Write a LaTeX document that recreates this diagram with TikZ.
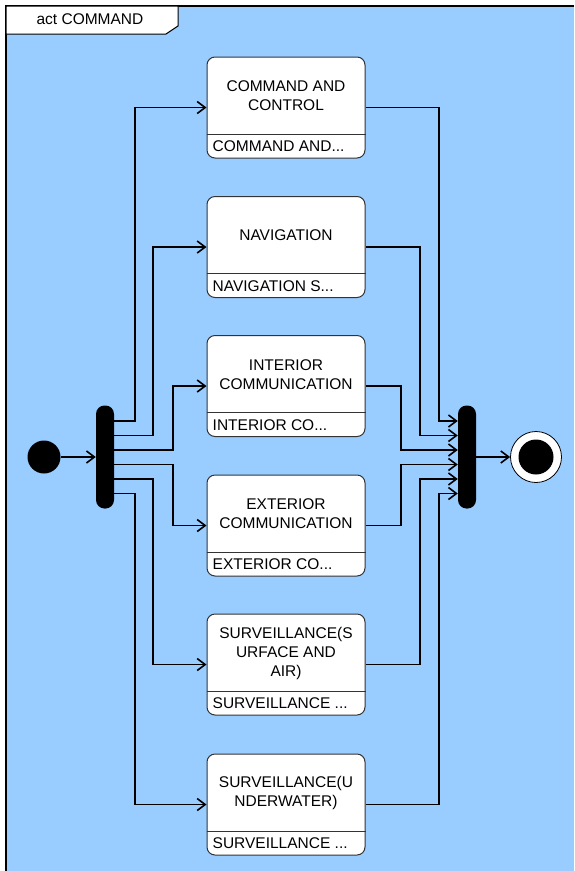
\documentclass[tikz,border=0pt]{standalone}
\usepackage{fontspec}
\setmainfont{Liberation Sans}
\usetikzlibrary{arrows.meta,positioning,calc}
\definecolor{umlblue}{RGB}{153,204,255}
\tikzset{
  act/.style     = {draw=black!80, line width=1pt, fill=white, rectangle,
                    rounded corners=8pt, minimum width=158pt, minimum height=101pt,
                    inner sep=0pt},
  acttitle/.style= {align=center, inner sep=0pt},
  actsub/.style  = {anchor=west, inner sep=0pt},
  actline/.style = {draw=black!80, line width=1pt},
  bar/.style     = {fill=black, rectangle, rounded corners=8.5pt, inner sep=0pt,
                    minimum width=18pt, minimum height=103pt},
  start/.style   = {fill=black, circle, inner sep=0pt, minimum size=33pt},
  stop/.style    = {draw=black, line width=0.8pt, fill=white, circle, inner sep=0pt,
                    minimum size=51pt},
  flow/.style    = {-{Straight Barb[length=8pt,width=12pt]}, line width=1.6pt},
}
\newcommand{\actnode}[4]{%
  \node[act] (#1) at (286,#2) {};
  \node[acttitle] (#1t) at ([yshift=11.5]#1.center) {#3};
  \draw[actline] ([yshift=-26.5]#1.west) -- ([yshift=-26.5]#1.east);
  \node[actsub] (#1s) at ([xshift=6,yshift=-39]#1.west) {#4};
}

\begin{document}
\begin{tikzpicture}[x=1pt,y=-1pt,font=\fontsize{15.5}{19}\selectfont]
\useasboundingbox (0,0) rectangle (574,871);
% ---------- frame ----------
\fill[umlblue] (6,6) rectangle (574,871);
\draw[line width=1.8pt] (6,871) -- (6,6) -- (574,6);
\draw[line width=1pt, fill=white] (6,6) -- (178,6) -- (178,26) -- (166,34) -- (6,34) -- cycle;
\node[inner sep=0pt] (frame) at (90,19) {act COMMAND};
% ---------- actions ----------
\actnode{CC}{107.5}{COMMAND AND\\CONTROL}{COMMAND AND...}
\actnode{NAV}{247}{NAVIGATION}{NAVIGATION S...}
\actnode{IC}{386}{INTERIOR\\COMMUNICATION}{INTERIOR CO...}
\actnode{EC}{525.5}{EXTERIOR\\COMMUNICATION}{EXTERIOR CO...}
\actnode{SSA}{664.5}{SURVEILLANCE(S\\URFACE AND\\AIR)}{SURVEILLANCE ...}
\actnode{SUW}{804.5}{SURVEILLANCE(U\\NDERWATER)}{SURVEILLANCE ...}
% ---------- control nodes ----------
\node[start] (init) at (44,457) {};
\node[bar] (fork) at (105,457) {};
\node[bar] (join) at (467,457) {};
\node[stop] (final) at (536,457) {};
\fill (final) circle (17.5);
% ---------- fork ----------
\draw[flow] (init) -- (fork);
\draw[flow] ([yshift=36]fork.east) -- ++(21,0) |- (CC.west);
\draw[flow] ([yshift=21.5]fork.east) -- ++(39,0) |- (NAV.west);
\draw[flow] ([yshift=7]fork.east) -- ++(59,0) |- (IC.west);
\draw[flow] ([yshift=-7.5]fork.east) -- ++(59,0) |- (EC.west);
\draw[flow] ([yshift=-22]fork.east) -- ++(39,0) |- (SSA.west);
\draw[flow] ([yshift=-36.5]fork.east) -- ++(21,0) |- (SUW.west);
% ---------- join ----------
\draw[flow] (CC.east) -| ([xshift=-19,yshift=36]join.west) -- ([yshift=36]join.west);
\draw[flow] (NAV.east) -| ([xshift=-38,yshift=21.5]join.west) -- ([yshift=21.5]join.west);
\draw[flow] (IC.east) -| ([xshift=-57,yshift=7]join.west) -- ([yshift=7]join.west);
\draw[flow] (EC.east) -| ([xshift=-57,yshift=-7.5]join.west) -- ([yshift=-7.5]join.west);
\draw[flow] (SSA.east) -| ([xshift=-38,yshift=-22]join.west) -- ([yshift=-22]join.west);
\draw[flow] (SUW.east) -| ([xshift=-19,yshift=-36.5]join.west) -- ([yshift=-36.5]join.west);
\draw[flow] (join) -- (final);
\end{tikzpicture}
\end{document}
